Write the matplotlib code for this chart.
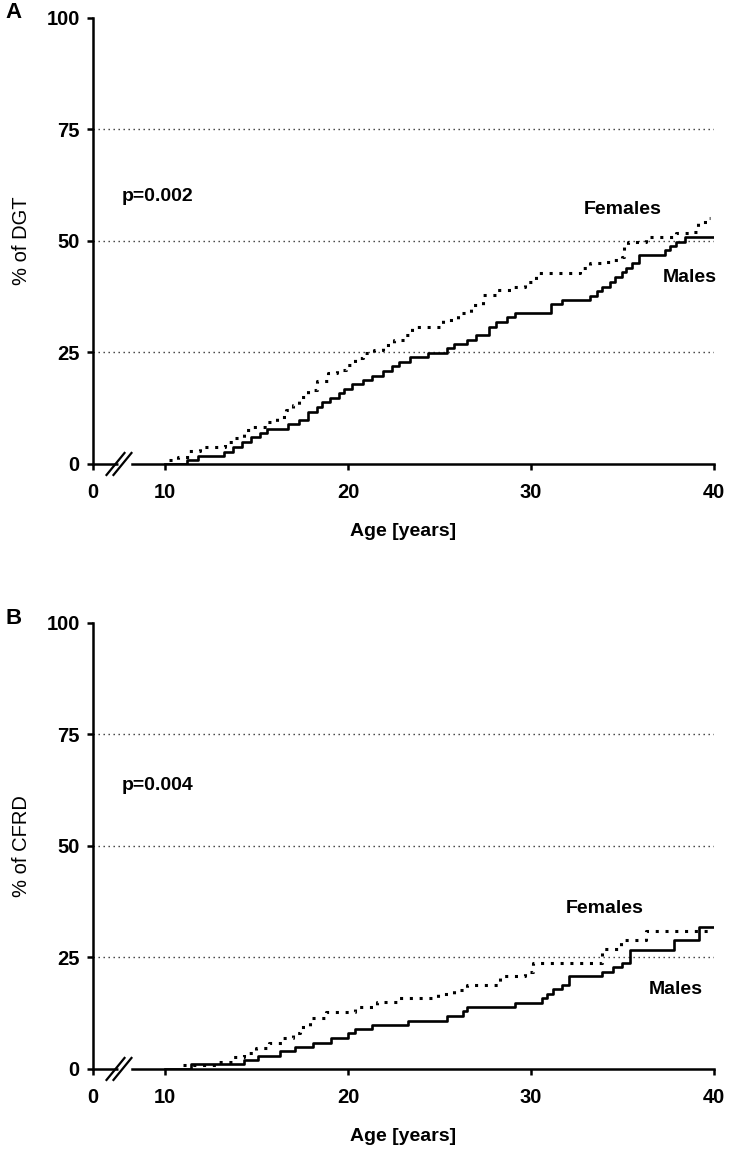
import matplotlib.pyplot as plt

plt.rcParams["font.family"] = ["Liberation Sans", "DejaVu Sans"]

# Panel A (DGT) - Kaplan-Meier style cumulative %
males_a_age = [10, 11.2, 11.8, 13.2, 13.7, 14.2, 14.7, 15.2, 15.6, 16.7, 17.3, 17.8,
               18.3, 18.6, 19.0, 19.5, 19.8, 20.2, 20.8, 21.3, 21.9, 22.4, 22.8, 23.4,
               24.4, 25.4, 25.8, 26.5, 27.0, 27.7, 28.1, 28.7, 29.1, 31.1, 31.7, 33.2,
               33.6, 33.9, 34.3, 34.6, 35.0, 35.2, 35.5, 35.9, 37.3, 37.6, 37.9, 38.4, 40]
males_a_pct = [0, 0.9, 1.8, 2.7, 3.8, 4.9, 6.0, 7.0, 7.8, 9.0, 9.9, 11.7,
               12.8, 13.9, 14.8, 15.9, 16.8, 17.9, 18.8, 19.7, 20.9, 22.0, 22.9, 24.0,
               24.9, 26.0, 26.9, 27.8, 28.9, 30.7, 31.8, 33.0, 33.9, 35.9, 36.8, 37.7,
               38.8, 39.7, 40.8, 41.9, 43.0, 43.9, 45.0, 46.9, 48.0, 48.9, 49.8, 50.9, 50.9]

females_a_age = [10.2, 10.7, 11.3, 11.9, 13.3, 13.7, 14.3, 14.8, 15.6, 16.1, 16.6, 17.0,
                 17.3, 17.8, 18.3, 18.9, 19.4, 19.9, 20.4, 20.8, 21.4, 21.9, 22.5, 23.1,
                 23.5, 25.2, 26.0, 26.7, 27.4, 28.1, 29.0, 29.7, 30.3, 32.7, 33.2, 33.8,
                 34.5, 35.0, 35.1, 35.3, 36.3, 37.9, 38.8, 39.1, 39.7, 39.8]
females_a_pct = [0.9, 1.6, 2.8, 3.7, 5.0, 5.8, 7.6, 8.4, 9.5, 10.6, 12.1, 13.2,
                 15.1, 16.6, 18.5, 20.3, 21.1, 22.2, 23.7, 24.8, 25.6, 26.7, 27.8, 28.9,
                 30.7, 32.3, 33.9, 35.7, 37.9, 39.0, 39.7, 40.8, 42.8, 43.9, 45.0, 45.3,
                 45.7, 46.4, 48.7, 49.8, 50.9, 51.8, 52.0, 54.3, 55.1, 55.1]

# Panel B (CFRD)
males_b_age = [10, 11.4, 14.3, 15.1, 16.3, 17.1, 18.1, 19.1, 20.0, 20.4, 21.3, 23.3,
               25.4, 26.3, 26.5, 29.1, 30.6, 30.9, 31.2, 31.7, 32.1, 33.9, 34.5, 35.0,
               35.4, 37.8, 39.2, 40]
males_b_pct = [0, 1.0, 2.0, 2.9, 4.0, 4.9, 5.8, 6.9, 8.0, 9.0, 9.9, 10.8,
               11.9, 12.9, 13.9, 14.8, 15.9, 16.8, 17.9, 18.8, 20.9, 21.8, 22.9, 23.8,
               26.7, 28.9, 31.8, 31.8]

females_b_age = [11.0, 12.9, 13.7, 14.3, 15.0, 15.7, 16.4, 17.0, 17.4, 17.9, 18.8, 20.4,
                 21.6, 22.7, 24.9, 25.8, 26.5, 28.3, 29.7, 30.1, 33.9, 34.9, 36.3, 39.8]
females_b_pct = [0.9, 1.6, 2.7, 3.5, 4.7, 5.8, 6.9, 8.1, 9.5, 11.4, 12.8, 13.9,
                 15.0, 15.9, 16.8, 17.7, 18.8, 20.8, 21.8, 23.8, 26.9, 28.9, 30.9, 30.9]

y_ticks = [0, 25, 50, 75, 100]
ref_lines = [25, 50, 75]
x_tick_labels = ["0", "10", "20", "30", "40"]

X0 = 6.07  # axis position of the "0" tick (left of the axis break)


def draw_panel(ax, m_age, m_pct, f_age, f_pct, ylabel, ptext, p_y, fem_xy, mal_xy):
    for r in ref_lines:
        ax.axhline(r, color="#333333", lw=1.0, ls=(0, (1, 2.6)), zorder=1)

    ax.step(f_age, f_pct, where="post", color="black", lw=2.2,
            ls=(0, (1, 2.2)), zorder=3)
    ax.step(m_age, m_pct, where="post", color="black", lw=1.9, zorder=4)

    ax.set_xlim(X0, 40)
    ax.set_ylim(0, 100)
    ax.set_xticks([X0, 10, 20, 30, 40])
    ax.set_xticklabels(x_tick_labels)
    ax.set_yticks(y_ticks)

    for s in ["top", "right"]:
        ax.spines[s].set_visible(False)
    ax.spines["left"].set_linewidth(1.8)
    ax.spines["bottom"].set_linewidth(1.8)
    ax.spines["bottom"].set_bounds(8.2, 40)
    ax.tick_params(width=1.8, length=4.5, labelsize=14.5)
    ax.tick_params(axis="x", pad=9)
    ax.tick_params(axis="y", pad=5)
    for t in ax.get_xticklabels() + ax.get_yticklabels():
        t.set_fontweight("bold")

    # left piece of the broken x axis and the break marks
    ux = (40 - X0) / 621.0
    uy = 100 / 446.0
    ax.plot([X0, 7.43], [0, 0], color="black", lw=1.8, clip_on=False,
            solid_capstyle="butt", zorder=5)
    for cx in (7.30, 7.68):
        ax.plot([cx - 9 * ux, cx + 9 * ux], [-11 * uy, 11 * uy], color="black",
                lw=1.6, clip_on=False, zorder=5)

    ax.set_ylabel(ylabel, fontsize=14.5)
    ax.yaxis.set_label_coords(-0.1, 0.5)
    ax.set_xlabel("Age [years]", fontsize=14, fontweight="bold", labelpad=15)

    ax.text(9.6, p_y, ptext, fontsize=14, fontweight="bold", ha="center", va="center")
    ax.text(fem_xy[0], fem_xy[1], "Females", fontsize=14, fontweight="bold",
            ha="center", va="center")
    ax.text(mal_xy[0], mal_xy[1], "Males", fontsize=14, fontweight="bold",
            ha="center", va="center")


fig = plt.figure(figsize=(7.3, 11.53), dpi=100)
ax_a = fig.add_axes([0.1274, 0.5976, 0.8507, 0.3868])
ax_b = fig.add_axes([0.1274, 0.0729, 0.8507, 0.3868])

draw_panel(ax_a, males_a_age, males_a_pct, females_a_age, females_a_pct,
           "% of DGT", "p=0.002", 60, (35.0, 57.0), (38.7, 41.7))
draw_panel(ax_b, males_b_age, males_b_pct, females_b_age, females_b_pct,
           "% of CFRD", "p=0.004", 63.5, (34.0, 36.0), (37.9, 17.9))

fig.text(0.018, 0.989, "A", fontsize=16, fontweight="bold", va="center", ha="center")
fig.text(0.018, 0.464, "B", fontsize=16, fontweight="bold", va="center", ha="center")

fig.savefig("out.png", dpi=100)
